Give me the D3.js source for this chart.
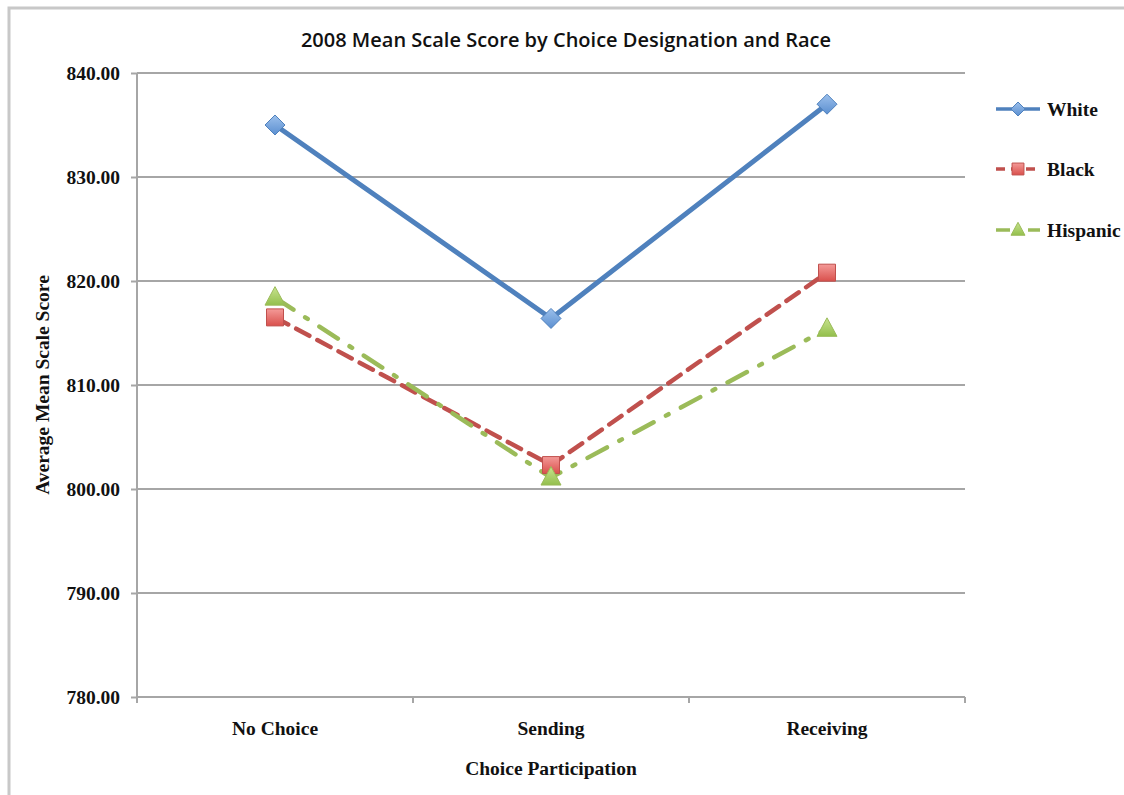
<!DOCTYPE html>
<html>
<head>
<meta charset="utf-8">
<script src="https://cdn.jsdelivr.net/npm/d3@7"></script>
<style>
  html, body { margin: 0; padding: 0; background: #fff; }
  svg { display: block; }
</style>
</head>
<body>
<svg id="chart" width="1124" height="795"></svg>
<script>
// Mean scale scores by choice participation group
const categories = ["No Choice", "Sending", "Receiving"];
const white    = [835.0, 816.4, 837.0];
const black    = [816.5, 802.3, 820.8];
const hispanic = [818.4, 801.1, 815.4];
const yTicks   = [780, 790, 800, 810, 820, 830, 840];

const series = [
  { name: "White",    values: white,    color: "#4f81bd", dash: null,          width: 5, marker: "diamond" },
  { name: "Black",    values: black,    color: "#c0504d", dash: "15,9",        width: 4.5, marker: "square" },
  { name: "Hispanic", values: hispanic, color: "#9bbb59", dash: "22,14,3,14",  width: 4.5, marker: "triangle" }
];

const serif = "'Liberation Serif', 'Times New Roman', serif";
const fs = 19.5;

const svg = d3.select("#chart");
const margin = { left: 137, right: 965, top: 73, bottom: 697 };

// outer frame
svg.append("rect")
  .attr("x", 9).attr("y", 8).attr("width", 1130).attr("height", 800)
  .attr("fill", "none").attr("stroke", "#c8c8c8").attr("stroke-width", 3);

const x = d3.scaleBand().domain(categories).range([margin.left, margin.right]);
const y = d3.scaleLinear().domain([780, 840]).range([margin.bottom, margin.top]);

// horizontal gridlines
svg.append("g").selectAll("line").data(yTicks.slice(1)).join("line")
  .attr("x1", margin.left).attr("x2", margin.right)
  .attr("y1", d => y(d)).attr("y2", d => y(d))
  .attr("stroke", "#a6a6a6").attr("stroke-width", 2);

// y axis
const yAxis = svg.append("g")
  .attr("transform", `translate(${margin.left},0)`)
  .call(d3.axisLeft(y).tickValues(yTicks).tickFormat(d3.format(".2f")).tickSize(6).tickPadding(11));
yAxis.select(".domain").attr("stroke", "#a6a6a6").attr("stroke-width", 2).attr("d", `M0,${margin.top}V${margin.bottom}`);
yAxis.selectAll(".tick line").attr("stroke", "#a6a6a6").attr("stroke-width", 2);
yAxis.selectAll("text")
  .attr("font-family", serif)
  .attr("font-weight", "bold").attr("font-size", fs).attr("fill", "#111");

// x axis with ticks at category boundaries
const xAxisG = svg.append("g").attr("transform", `translate(0,${margin.bottom})`);
xAxisG.append("line")
  .attr("x1", margin.left).attr("x2", margin.right)
  .attr("stroke", "#a6a6a6").attr("stroke-width", 2);
const bounds = categories.map(c => x(c)).concat([x(categories[categories.length - 1]) + x.bandwidth()]);
xAxisG.selectAll("line.tk").data(bounds).join("line").attr("class", "tk")
  .attr("x1", d => d).attr("x2", d => d).attr("y1", 0).attr("y2", 6)
  .attr("stroke", "#a6a6a6").attr("stroke-width", 2);
xAxisG.selectAll("text").data(categories).join("text")
  .attr("x", d => x(d) + x.bandwidth() / 2).attr("y", 38)
  .attr("text-anchor", "middle")
  .attr("font-family", serif)
  .attr("font-weight", "bold").attr("font-size", fs).attr("fill", "#111")
  .text(d => d);

// titles
svg.append("text")
  .attr("x", 566).attr("y", 47).attr("text-anchor", "middle")
  .attr("font-family", "'Open Sans', 'Noto Sans', sans-serif")
  .attr("font-weight", 600).attr("font-size", 20).attr("fill", "#111")
  .text("2008 Mean Scale Score by Choice Designation and Race");

svg.append("text")
  .attr("x", 551).attr("y", 775).attr("text-anchor", "middle")
  .attr("font-family", serif)
  .attr("font-weight", "bold").attr("font-size", fs).attr("fill", "#111")
  .text("Choice Participation");

svg.append("text")
  .attr("transform", `translate(49,${(margin.top + margin.bottom) / 2}) rotate(-90)`)
  .attr("text-anchor", "middle")
  .attr("font-family", serif)
  .attr("font-weight", "bold").attr("font-size", fs).attr("fill", "#111")
  .text("Average Mean Scale Score");

// gradients for markers
const defs = svg.append("defs");
function grad(id, light, dark) {
  const g = defs.append("linearGradient").attr("id", id)
    .attr("x1", 0).attr("y1", 0).attr("x2", 0).attr("y2", 1);
  g.append("stop").attr("offset", "0%").attr("stop-color", light);
  g.append("stop").attr("offset", "100%").attr("stop-color", dark);
}
grad("g-white", "#9cc0ec", "#5b8fd0");
grad("g-black", "#f49a98", "#d9504c");
grad("g-hispanic", "#c8e38f", "#93bf4c");
const gradId = { White: "g-white", Black: "g-black", Hispanic: "g-hispanic" };

function markerPath(type, s) {
  if (type === "diamond") return `M0,${-s}L${s},0L0,${s}L${-s},0Z`;
  if (type === "square") return `M${-s * 0.85},${-s * 0.85}H${s * 0.85}V${s * 0.85}H${-s * 0.85}Z`;
  return `M0,${-s * 1.1}L${s},${s * 0.75}L${-s},${s * 0.75}Z`;
}

const line = d3.line()
  .x((d, i) => x(categories[i]) + x.bandwidth() / 2)
  .y(d => y(d));

// lines first, then markers on top
series.forEach(s => {
  svg.append("path").datum(s.values)
    .attr("d", line)
    .attr("fill", "none").attr("stroke", s.color)
    .attr("stroke-width", s.width)
    .attr("stroke-dasharray", s.dash)
    .attr("stroke-linecap", s.dash ? "round" : "butt")
    .attr("stroke-linejoin", "round");
});
series.forEach(s => {
  svg.append("g").selectAll("path").data(s.values).join("path")
    .attr("transform", (d, i) => `translate(${x(categories[i]) + x.bandwidth() / 2},${y(d)})`)
    .attr("d", markerPath(s.marker, 10))
    .attr("fill", `url(#${gradId[s.name]})`)
    .attr("stroke", s.color).attr("stroke-width", 1);
});

// legend
const legend = svg.append("g");
const legendY = [109, 169, 230];
series.forEach((s, i) => {
  const g = legend.append("g").attr("transform", `translate(0,${legendY[i]})`);
  g.append("line").attr("x1", 996).attr("x2", 1040)
    .attr("stroke", s.color).attr("stroke-width", 3.5)
    .attr("stroke-dasharray", s.dash ? (s.name === "Black" ? "9,6" : "14,8,2,8") : null);
  g.append("path").attr("transform", "translate(1018,0)")
    .attr("d", markerPath(s.marker, 7))
    .attr("fill", `url(#${gradId[s.name]})`)
    .attr("stroke", s.color).attr("stroke-width", 1);
  g.append("text").attr("x", 1047).attr("y", 7)
    .attr("font-family", serif)
    .attr("font-weight", "bold").attr("font-size", fs).attr("fill", "#111")
    .text(s.name);
});
</script>
</body>
</html>
